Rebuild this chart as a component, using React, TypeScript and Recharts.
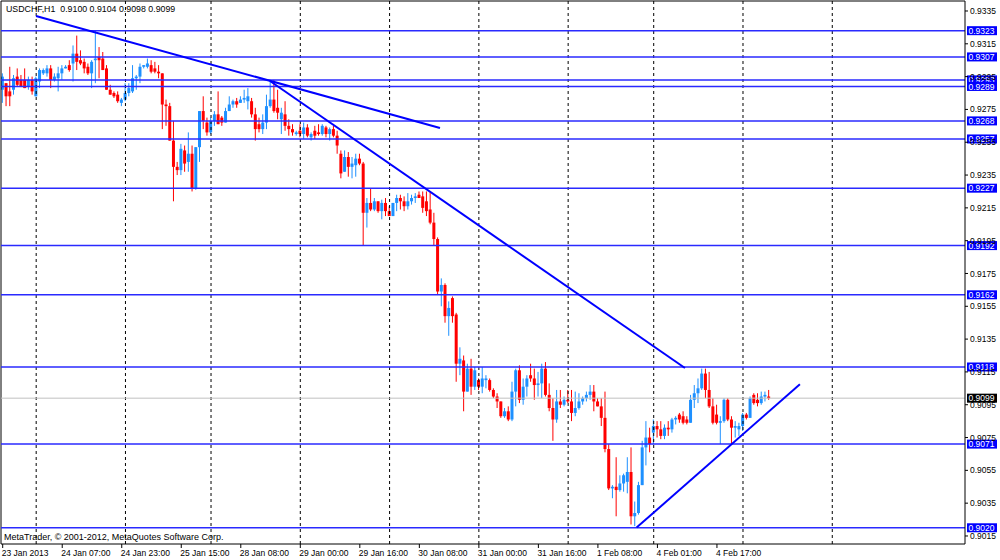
import React from 'react';
import { ComposedChart, Bar, XAxis, YAxis, ReferenceLine } from 'recharts';

// ---- data (prices in pips: 9287 -> 0.9287) ----
const OPEN_PIPS = [
  9287,9291,9286,9287,9295,9293,9293,9289,9293,9283,
  9292,9297,9297,9300,9293,9294,9297,9300,9302,9303,
  9309,9305,9304,9301,9297,9305,9307,9306,9300,9287,
  9285,9284,9279,9281,9285,9286,9294,9295,9301,9301,
  9302,9300,9298,9297,9278,9277,9256,9240,9238,9250,
  9243,9248,9227,9252,9274,9267,9261,9268,9272,9270,
  9267,9274,9278,9280,9279,9281,9280,9280,9272,9266,
  9263,9267,9277,9281,9276,9269,9272,9265,9263,9260,
  9262,9260,9264,9258,9262,9261,9260,9264,9260,9263,
  9259,9248,9237,9246,9240,9241,9245,9242,9212,9218,
  9214,9219,9213,9218,9213,9210,9218,9221,9219,9216,
  9219,9221,9223,9222,9219,9214,9206,9196,9164,9168,
  9149,9160,9150,9120,9122,9103,9117,9106,9110,9106,
  9110,9110,9104,9100,9097,9088,9091,9086,9103,9116,
  9098,9106,9113,9111,9107,9108,9117,9101,9093,9086,
  9097,9095,9098,9097,9090,9093,9097,9099,9101,9103,
  9097,9094,9087,9068,9044,9045,9043,9047,9048,9054,
  9027,9029,9046,9069,9075,9078,9082,9080,9076,9081,
  9080,9086,9089,9088,9086,9084,9098,9102,9105,9114,
  9104,9094,9089,9084,9085,9098,9086,9081,9080,9082,
  9089,9087,9101,9098,9096,9100,9100,
];
const HIGH_PIPS = [
  9297,9291,9301,9296,9300,9296,9300,9295,9295,9295,
  9300,9300,9302,9302,9297,9301,9302,9302,9305,9314,
  9320,9311,9306,9303,9305,9323,9313,9310,9302,9290,
  9286,9286,9282,9291,9291,9302,9296,9303,9302,9306,
  9305,9304,9302,9297,9281,9279,9268,9243,9254,9253,
  9261,9253,9252,9274,9283,9270,9270,9274,9286,9271,
  9276,9283,9281,9282,9283,9287,9288,9282,9276,9270,
  9272,9284,9292,9293,9287,9276,9280,9269,9266,9262,
  9266,9267,9266,9261,9265,9266,9266,9265,9264,9265,
  9262,9250,9250,9249,9246,9248,9248,9243,9221,9227,
  9221,9219,9220,9221,9216,9218,9223,9223,9222,9224,
  9223,9224,9225,9225,9225,9225,9212,9197,9172,9169,
  9158,9161,9151,9130,9125,9120,9123,9118,9111,9118,
  9113,9111,9105,9102,9097,9093,9094,9109,9117,9119,
  9111,9113,9120,9117,9115,9120,9121,9108,9099,9104,
  9104,9100,9104,9104,9103,9102,9100,9103,9107,9107,
  9099,9099,9103,9071,9046,9063,9052,9053,9063,9069,
  9036,9048,9073,9085,9081,9086,9085,9085,9083,9085,
  9087,9088,9090,9091,9088,9101,9107,9111,9117,9117,
  9115,9099,9095,9088,9099,9099,9088,9085,9084,9090,
  9090,9100,9102,9102,9103,9103,9104,
];
const LOW_PIPS = [
  9279,9277,9277,9284,9289,9289,9288,9287,9284,9283,
  9288,9296,9295,9288,9292,9286,9293,9300,9298,9292,
  9299,9302,9297,9296,9288,9291,9294,9299,9287,9284,
  9282,9279,9277,9280,9283,9285,9287,9291,9300,9300,
  9297,9297,9294,9263,9265,9256,9219,9235,9235,9237,
  9237,9225,9226,9243,9263,9259,9260,9265,9266,9265,
  9267,9274,9276,9276,9279,9279,9275,9270,9256,9261,
  9260,9263,9276,9273,9269,9260,9262,9259,9259,9259,
  9258,9257,9258,9256,9257,9259,9259,9258,9256,9258,
  9248,9233,9237,9234,9233,9234,9241,9192,9203,9213,
  9213,9212,9208,9210,9210,9210,9213,9214,9213,9214,
  9217,9218,9221,9212,9210,9205,9192,9162,9155,9145,
  9137,9145,9109,9113,9091,9103,9101,9104,9104,9102,
  9105,9103,9099,9093,9087,9087,9085,9085,9094,9096,
  9095,9100,9109,9098,9100,9099,9100,9091,9073,9084,
  9093,9094,9096,9085,9088,9092,9095,9097,9098,9091,
  9094,9082,9066,9043,9038,9027,9042,9042,9041,9022,
  9021,9028,9046,9058,9066,9071,9075,9074,9074,9076,
  9078,9083,9084,9083,9083,9084,9093,9096,9104,9099,
  9093,9083,9083,9071,9084,9085,9071,9075,9076,9079,
  9086,9087,9095,9094,9095,9097,9098,
];
const CLOSE_PIPS = [
  9295,9283,9283,9294,9290,9289,9288,9293,9286,9294,
  9299,9299,9300,9293,9295,9297,9300,9301,9299,9309,
  9304,9303,9300,9297,9304,9306,9305,9299,9287,9284,
  9283,9280,9281,9285,9288,9294,9295,9301,9302,9303,
  9298,9298,9297,9278,9277,9256,9240,9238,9251,9242,
  9248,9227,9252,9274,9268,9261,9268,9272,9266,9267,
  9274,9278,9280,9278,9281,9282,9283,9272,9263,9263,
  9267,9277,9281,9274,9273,9273,9265,9263,9261,9261,
  9260,9264,9259,9260,9259,9260,9265,9260,9263,9259,
  9253,9236,9246,9240,9242,9245,9242,9212,9218,9214,
  9219,9213,9218,9213,9210,9218,9221,9219,9216,9219,
  9221,9222,9221,9215,9213,9206,9196,9164,9168,9149,
  9154,9149,9120,9123,9103,9117,9106,9116,9106,9111,
  9111,9104,9100,9097,9088,9091,9086,9103,9116,9098,
  9106,9111,9111,9107,9108,9117,9101,9093,9086,9097,
  9095,9098,9097,9090,9093,9097,9099,9101,9103,9097,
  9094,9087,9068,9044,9045,9043,9047,9052,9054,9027,
  9029,9046,9069,9075,9071,9082,9080,9076,9081,9080,
  9086,9087,9086,9084,9084,9098,9102,9105,9114,9104,
  9094,9084,9084,9085,9098,9086,9081,9082,9082,9089,
  9087,9099,9096,9096,9100,9101,9099,
];
const PIPS_PER_UNIT = 10000;

const TIME_LABELS = [
  '23 Jan 2013', '24 Jan 07:00', '24 Jan 23:00', '25 Jan 15:00', '28 Jan 08:00',
  '29 Jan 00:00', '29 Jan 16:00', '30 Jan 08:00', '31 Jan 00:00', '31 Jan 16:00',
  '1 Feb 08:00', '4 Feb 01:00', '4 Feb 17:00',
];
const TIME_LABEL_BARS = [0, 16, 32, 48, 64, 80, 96, 112, 128, 144, 160, 176, 192];
const DAY_START_BARS = [9, 33, 56, 80, 104, 128, 152, 175, 199, 223];

const PRICE_TICKS = [
  0.9335, 0.9315, 0.9295, 0.9275, 0.9255, 0.9235, 0.9215, 0.9195, 0.9175,
  0.9155, 0.9135, 0.9115, 0.9095, 0.9075, 0.9055, 0.9035, 0.9015,
];
const LEVELS = [0.9323, 0.9307, 0.9293, 0.9289, 0.9268, 0.9257, 0.9227, 0.9192, 0.9162, 0.9118, 0.9071, 0.9020];
const LAST_PRICE = 0.9099;
const TITLE = 'USDCHF,H1  0.9100 0.9104 0.9098 0.9099';
const COPYRIGHT = 'MetaTrader, © 2001-2012, MetaQuotes Software Corp.';

// trend lines: [bar index, price]
const TREND_FROM = [[8.95, 0.9332], [71.85, 0.92923], [170.4, 0.90201]];
const TREND_TO = [[117.55, 0.92637], [183.4, 0.91174], [214.3, 0.91075]];

// ---- layout ----
const X_DOMAIN: [number, number] = [-0.457, 258.68];
const Y_DOMAIN: [number, number] = [0.901011, 0.934109];
const FONT = '"Liberation Sans", Arial, sans-serif';
const UP = '#1e90ff';
const DOWN = '#ff0000';
const LEVEL_BLUE = '#2a2aff';

const data = OPEN_PIPS.map((o, i) => ({
  i,
  o: o / PIPS_PER_UNIT,
  h: HIGH_PIPS[i] / PIPS_PER_UNIT,
  l: LOW_PIPS[i] / PIPS_PER_UNIT,
  c: CLOSE_PIPS[i] / PIPS_PER_UNIT,
  range: [LOW_PIPS[i] / PIPS_PER_UNIT, HIGH_PIPS[i] / PIPS_PER_UNIT],
}));

const Candle = (props: any) => {
  const { x, y, width, height, payload } = props;
  if (x == null || y == null || !payload) return null;
  const cx = x + width / 2;
  const top = Math.min(y, y + height);
  const hgt = Math.abs(height);
  const { o, h, l, c } = payload;
  const span = h - l;
  const py = (p: number) => (span > 0 ? top + ((h - p) / span) * hgt : top);
  const color = c >= o ? UP : DOWN;
  const bTop = py(Math.max(o, c));
  const bBot = py(Math.min(o, c));
  return (
    <g>
      <line x1={cx} x2={cx} y1={top} y2={top + hgt} stroke={color} strokeWidth={1} />
      <rect x={cx - 1.5} y={bTop} width={3} height={Math.max(bBot - bTop, 1)} fill={color} />
    </g>
  );
};

const PriceTag = (props: any) => {
  const { viewBox, price, bg } = props;
  if (!viewBox) return null;
  const x = viewBox.x + viewBox.width + 2;
  const y = viewBox.y;
  return (
    <g>
      <rect x={x} y={y - 4.5} width={30} height={9} fill={bg} />
      <text x={x + 1.5} y={y + 3.2} fontSize={8.5} fill="#fff" fontFamily={FONT}>
        {price.toFixed(4)}
      </text>
    </g>
  );
};

const TimeTick = (props: any) => {
  const { x, y, payload } = props;
  const idx = TIME_LABEL_BARS.indexOf(payload.value);
  return (
    <text x={x - 1} y={y} dy="0.71em" textAnchor="start" fontSize={8.5} fill="#000" fontFamily={FONT}>
      {idx >= 0 ? TIME_LABELS[idx] : ''}
    </text>
  );
};

export default function App() {
  return (
    <div style={{ position: 'absolute', left: 0, top: 0, width: 1000, height: 560, background: '#fff', fontFamily: FONT }}>
      <ComposedChart width={1000} height={560} data={data} margin={{ top: 1, right: 0, left: 1, bottom: 0 }}>
        <XAxis
          type="number"
          dataKey="i"
          domain={X_DOMAIN}
          allowDataOverflow
          ticks={TIME_LABEL_BARS}
          interval={0}
          tick={<TimeTick />}
          tickSize={4}
          tickMargin={2}
          height={16}
          axisLine={{ stroke: '#000' }}
          tickLine={{ stroke: '#000' }}
        />
        <YAxis
          orientation="right"
          type="number"
          domain={Y_DOMAIN}
          allowDataOverflow
          ticks={PRICE_TICKS}
          interval={0}
          width={35}
          tickSize={3}
          tickMargin={2}
          tick={{ fontSize: 8.5, fill: '#000', fontFamily: FONT }}
          tickFormatter={(v: number) => v.toFixed(4)}
          axisLine={{ stroke: '#000' }}
          tickLine={{ stroke: '#000' }}
        />
        <ReferenceLine x={X_DOMAIN[0]} stroke="#000" />
        <ReferenceLine y={Y_DOMAIN[1]} stroke="#000" />
        {DAY_START_BARS.map((d) => (
          <ReferenceLine key={'d' + d} x={d} stroke="#000" strokeDasharray="3 3" />
        ))}
        <Bar dataKey="range" barSize={3} shape={<Candle />} isAnimationActive={false} />
        <ReferenceLine
          y={LAST_PRICE}
          stroke="#c0c0c0"
          label={<PriceTag price={LAST_PRICE} bg="#000" />}
        />
        {LEVELS.map((lv) => (
          <ReferenceLine
            key={'l' + lv}
            y={lv}
            stroke={LEVEL_BLUE}
            strokeWidth={1.5}
            label={<PriceTag price={lv} bg="#0000ff" />}
          />
        ))}
        {TREND_FROM.map((p, k) => (
          <ReferenceLine
            key={'t' + k}
            segment={[{ x: p[0], y: p[1] }, { x: TREND_TO[k][0], y: TREND_TO[k][1] }]}
            stroke="#0000ff"
            strokeWidth={2}
          />
        ))}
      </ComposedChart>
      <div style={{ position: 'absolute', left: 6, top: 4, fontSize: 8.8, lineHeight: '11px', color: '#000', whiteSpace: 'pre' }}>
        {TITLE}
      </div>
      <div style={{ position: 'absolute', left: 4, top: 531.5, fontSize: 9, lineHeight: '11px', color: '#000', whiteSpace: 'pre' }}>
        {COPYRIGHT}
      </div>
    </div>
  );
}
